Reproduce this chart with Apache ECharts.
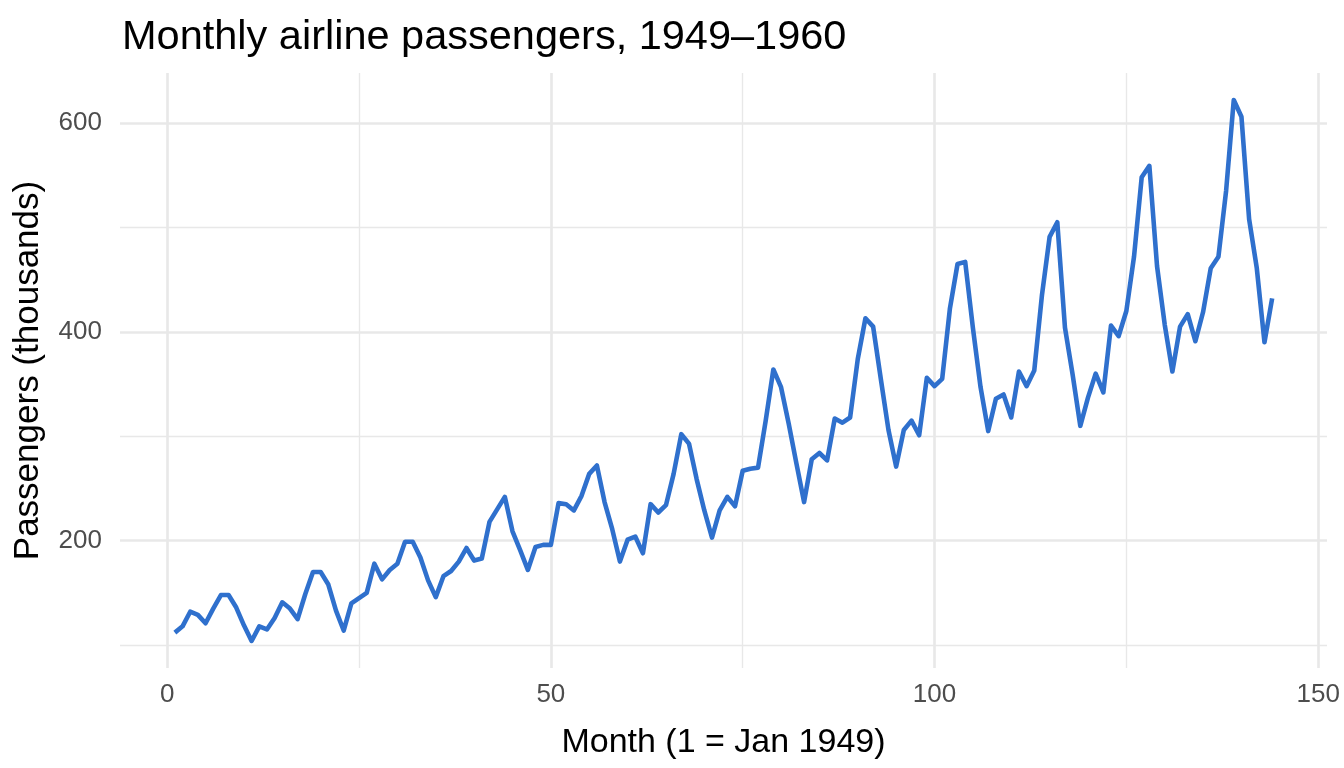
<!DOCTYPE html>
<html>
<head>
<meta charset="utf-8">
<title>Monthly airline passengers</title>
<script src="https://cdn.jsdelivr.net/npm/echarts@6/dist/echarts.min.js"></script>
<style>
  html, body { margin: 0; padding: 0; background: #fff; }
  #chart { width: 1344px; height: 768px; }
</style>
</head>
<body>
<div id="chart"></div>
<script>
// monthly totals, thousands, Jan 1949 .. Dec 1960
const passengers = [
  112, 118, 132, 129, 121, 135, 148, 148, 136, 119, 104, 118,
  115, 126, 141, 135, 125, 149, 170, 170, 158, 133, 114, 140,
  145, 150, 178, 163, 172, 178, 199, 199, 184, 162, 146, 166,
  171, 180, 193, 181, 183, 218, 230, 242, 209, 191, 172, 194,
  196, 196, 236, 235, 229, 243, 264, 272, 237, 211, 180, 201,
  204, 188, 235, 227, 234, 264, 302, 293, 259, 229, 203, 229,
  242, 233, 267, 269, 270, 315, 364, 347, 312, 274, 237, 278,
  284, 277, 317, 313, 318, 374, 413, 405, 355, 306, 271, 306,
  315, 301, 356, 348, 355, 422, 465, 467, 404, 347, 305, 336,
  340, 318, 362, 348, 363, 435, 491, 505, 404, 359, 310, 337,
  360, 342, 406, 396, 420, 472, 548, 559, 463, 407, 362, 405,
  417, 391, 419, 461, 472, 535, 622, 606, 508, 461, 390, 432
];
const months = passengers.map((_, i) => i + 1);

const xTicks = [0, 50, 100, 150];
const xMinor = [25, 75, 125];
const yTicks = [200, 400, 600];
const yMinor = [100, 300, 500];

// ggplot-style 5% expansion
const xMin = -6.15, xMax = 151.15;
const yMin = 78.1, yMax = 647.9;

const FONT = '"Liberation Sans", Arial, sans-serif';
const GRID = '#e8e8e8';

const gridLines = []
  .concat(xTicks.map(v => ({ xAxis: v, lineStyle: { width: 2.6 } })))
  .concat(xMinor.map(v => ({ xAxis: v, lineStyle: { width: 1.4 } })))
  .concat(yTicks.map(v => ({ yAxis: v, lineStyle: { width: 2.6 } })))
  .concat(yMinor.map(v => ({ yAxis: v, lineStyle: { width: 1.4 } })));

const chart = echarts.init(document.getElementById('chart'));
chart.setOption({
  animation: false,
  backgroundColor: '#fff',
  textStyle: { fontFamily: FONT },
  title: {
    text: 'Monthly airline passengers, 1949\u20131960',
    left: 117,
    top: 12,
    textStyle: { fontFamily: FONT, fontSize: 41.5, fontWeight: 'normal', color: '#000' }
  },
  grid: { left: 120, right: 17, top: 73, bottom: 100, containLabel: false },
  xAxis: {
    type: 'value',
    min: xMin,
    max: xMax,
    name: 'Month (1 = Jan 1949)',
    nameLocation: 'middle',
    nameGap: 58,
    nameTextStyle: { fontFamily: FONT, fontSize: 34, color: '#000' },
    axisLine: { show: false },
    axisTick: { show: false, customValues: xTicks },
    axisLabel: {
      customValues: xTicks,
      margin: 14,
      fontFamily: FONT, fontSize: 26, color: '#4d4d4d'
    },
    splitLine: { show: false }
  },
  yAxis: {
    type: 'value',
    min: yMin,
    max: yMax,
    name: 'Passengers (thousands)',
    nameLocation: 'middle',
    nameRotate: 90,
    nameGap: 74,
    nameTextStyle: { fontFamily: FONT, fontSize: 35, color: '#000' },
    axisLine: { show: false },
    axisTick: { show: false, customValues: yTicks },
    axisLabel: {
      customValues: yTicks,
      margin: 18,
      fontFamily: FONT, fontSize: 26, color: '#4d4d4d'
    },
    splitLine: { show: false }
  },
  series: [
    {
      type: 'line',
      data: [],
      silent: true,
      z: 0,
      markLine: {
        silent: true,
        z: 0,
        symbol: 'none',
        label: { show: false },
        lineStyle: { color: GRID, type: 'solid' },
        emphasis: { disabled: true },
        data: gridLines
      }
    },
    {
      type: 'line',
      z: 10,
      data: months.map((m, i) => [m, passengers[i]]),
      showSymbol: false,
      lineStyle: { color: '#2f70cd', width: 4.6, join: 'round' },
      itemStyle: { color: '#2f70cd' }
    }
  ]
});
</script>
</body>
</html>
